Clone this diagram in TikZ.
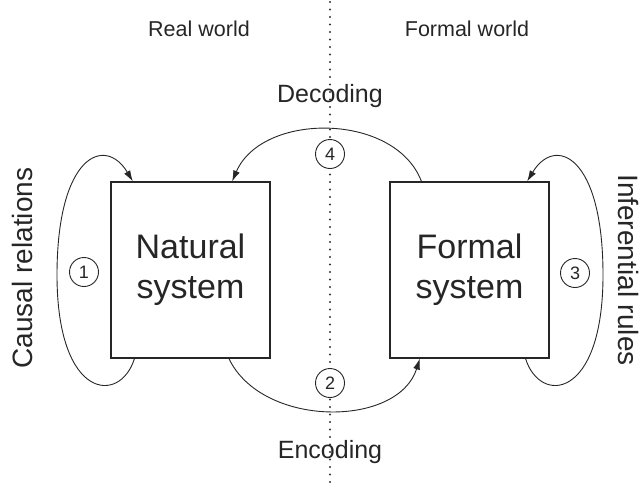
\documentclass[tikz,border=0pt]{standalone}
\usepackage{fontspec}
\setmainfont{Liberation Sans}
\usetikzlibrary{arrows.meta,calc}

\tikzset{
  sysbox/.style={draw, line width=1.1pt, minimum width=159pt, minimum height=176pt,
    inner sep=0pt, align=center, font=\fontsize{34}{40}\selectfont},
  numcirc/.style={circle, draw, fill=white, line width=0.9pt, minimum size=29pt,
    inner sep=0pt, font=\fontsize{18}{18}\selectfont},
  worldlabel/.style={anchor=base, font=\fontsize{21.5}{21.5}\selectfont},
  codelabel/.style={anchor=base, font=\fontsize{25}{25}\selectfont},
  sidelabel/.style={font=\fontsize{28}{28}\selectfont},
  flow/.style={-{Latex[length=11pt,width=7pt]}, line width=0.9pt},
}

\begin{document}
\begin{tikzpicture}[x=1pt, y=-1pt, color=black!85]
  \useasboundingbox (0,0) rectangle (644,488);

  % Divider between the two worlds
  \coordinate (divtop) at (330,2);
  \coordinate (divbot) at (330,488);
  \draw[line width=2.3pt, line cap=round, dash pattern=on 0pt off 7.5pt, black!80]
    (divtop) -- (divbot);

  % World labels
  \node[worldlabel] (real) at (199,36) {Real world};
  \node[worldlabel] (formw) at (467,36) {Formal world};

  % The two systems
  \node[sysbox] (natural) at (190.5,270) {Natural\\system};
  \node[sysbox] (formal) at (469.5,270) {Formal\\system};

  % Decoding (formal -> natural)
  \draw[flow] ($(formal.north west)!0.2!(formal.north east)$)
    .. controls (395,112) and (262,112) ..
    ($(natural.north west)!0.76!(natural.north east)$);

  % Encoding (natural -> formal)
  \draw[flow] ($(natural.south west)!0.74!(natural.south east)$)
    .. controls (262,428) and (398,428) ..
    ($(formal.south west)!0.19!(formal.south east)$);

  % Causal relations loop
  \draw[flow] ($(natural.south west)!0.15!(natural.south east)$)
    .. controls (120,405) and (57,400) .. (57,275)
    .. controls (57,155) and (105,135) ..
    ($(natural.north west)!0.14!(natural.north east)$);

  % Inferential rules loop
  \draw[flow] ($(formal.south west)!0.85!(formal.south east)$)
    .. controls (540,405) and (603,400) .. (603,275)
    .. controls (603,155) and (555,135) ..
    ($(formal.north west)!0.86!(formal.north east)$);

  % Numbered steps
  \node[numcirc] (c1) at (84,272) {1};
  \node[numcirc] (c2) at (330,383) {2};
  \node[numcirc] (c3) at (575,273) {3};
  \node[numcirc] (c4) at (330,154) {4};

  % Arrow labels
  \node[codelabel] (decoding) at (330,102) {Decoding};
  \node[codelabel] (encoding) at (330,458) {Encoding};
  \node[sidelabel, rotate=90] (causal) at (22,268) {Causal relations};
  \node[sidelabel, rotate=-90] (infer) at (628,270) {Inferential rules};
\end{tikzpicture}
\end{document}
